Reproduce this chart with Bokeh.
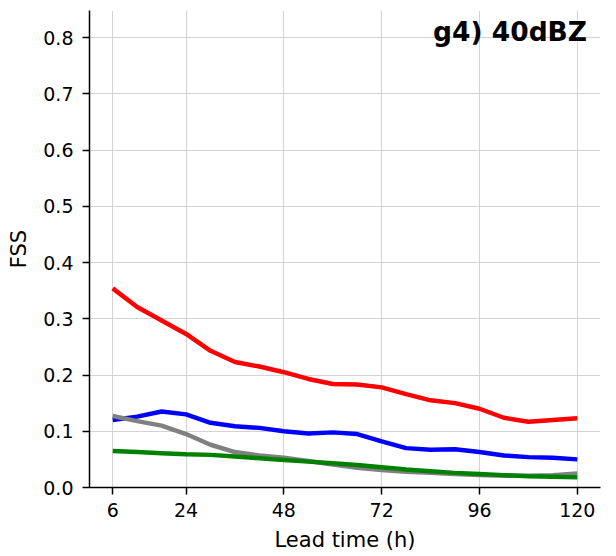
from bokeh.plotting import figure
from bokeh.models import FixedTicker, PrintfTickFormatter, Range1d, Label
from bokeh.embed import file_html
from bokeh.resources import INLINE

lead_time = [6, 12, 18, 24, 30, 36, 42, 48, 54, 60, 66, 72, 78, 84, 90, 96, 102, 108, 114, 120]
red = [0.354, 0.321, 0.297, 0.273, 0.243, 0.223, 0.215, 0.205, 0.193, 0.184,
       0.183, 0.178, 0.166, 0.155, 0.150, 0.140, 0.124, 0.117, 0.120, 0.123]
blue = [0.120, 0.126, 0.135, 0.130, 0.115, 0.109, 0.106, 0.100, 0.096, 0.098,
        0.095, 0.082, 0.070, 0.067, 0.068, 0.063, 0.057, 0.054, 0.053, 0.050]
gray = [0.127, 0.118, 0.110, 0.095, 0.076, 0.063, 0.057, 0.053, 0.047, 0.041,
        0.035, 0.031, 0.028, 0.026, 0.024, 0.022, 0.021, 0.021, 0.022, 0.025]
green = [0.065, 0.063, 0.061, 0.059, 0.058, 0.055, 0.052, 0.049, 0.046, 0.043,
         0.040, 0.036, 0.032, 0.029, 0.026, 0.024, 0.022, 0.020, 0.019, 0.018]

x_ticks = [6, 24, 48, 72, 96, 120]
y_ticks = [0.0, 0.1, 0.2, 0.3, 0.4, 0.5, 0.6, 0.7, 0.8]

FONT = "DejaVu Sans"

p = figure(output_backend="svg", toolbar_location=None,
           frame_width=511, frame_height=477,
           x_range=Range1d(0.3, 125.7), y_range=Range1d(0.0, 0.848))
p.min_border_left = 89
p.min_border_right = 8
p.min_border_top = 10
p.min_border_bottom = 61
p.outline_line_color = None
p.background_fill_color = "white"
p.border_fill_color = "white"

for ys, col in [(red, "#ff0000"), (blue, "#0000ff"), (gray, "#808080"), (green, "#008000")]:
    p.line(lead_time, ys, line_color=col, line_width=4.5)

p.xaxis.ticker = FixedTicker(ticks=x_ticks)
p.yaxis.ticker = FixedTicker(ticks=y_ticks)
p.yaxis.formatter = PrintfTickFormatter(format="%.1f")

for ax in (p.xaxis[0], p.yaxis[0]):
    ax.axis_line_color = "black"
    ax.axis_line_width = 1.5
    ax.major_tick_line_color = "black"
    ax.major_tick_line_width = 1.5
    ax.major_tick_in = 0
    ax.major_tick_out = 7
    ax.minor_tick_line_color = None
    ax.major_label_text_font = FONT
    ax.major_label_text_font_size = "19px"
    ax.major_label_text_color = "black"
    ax.axis_label_text_font = FONT
    ax.axis_label_text_font_size = "21px"
    ax.axis_label_text_font_style = "normal"
    ax.axis_label_text_color = "black"

p.xaxis.axis_label = "Lead time (h)"
p.yaxis.axis_label = "FSS"
p.xaxis.major_label_standoff = 8
p.yaxis.major_label_standoff = 9
p.xaxis.axis_label_standoff = 8
p.yaxis.axis_label_standoff = 9

p.xgrid.ticker = FixedTicker(ticks=x_ticks)
p.ygrid.ticker = FixedTicker(ticks=y_ticks)
p.grid.grid_line_color = "#d3d3d3"
p.grid.grid_line_width = 1

title = Label(x=84.6, y=0.810, text="g4) 40dBZ", text_align="left",
              text_baseline="alphabetic", text_font=FONT, text_font_size="26.5px",
              text_font_style="bold", text_color="black")
p.add_layout(title)

open("out.html", "w").write(file_html(p, INLINE))
